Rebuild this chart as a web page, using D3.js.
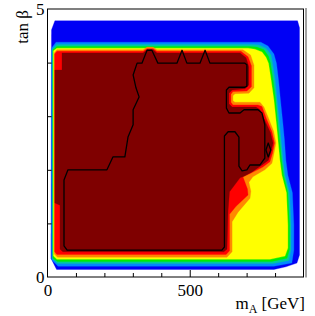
<!DOCTYPE html>
<html><head><meta charset="utf-8">
<script src="https://cdn.jsdelivr.net/npm/d3@7"></script>
<style>body{margin:0;background:#fff}</style></head>
<body><svg id="c" width="315" height="316"></svg>
<script>
// ---------- data (m_A in GeV, tan beta) ----------
const xDomain = [0, 900];
const yDomain = [0, 5];
const xMinorTicks = [100, 200, 300, 400, 600, 700, 800];
const xLabelTicks = [0, 500];
const yMinorTicks = [1, 2, 3, 4];
const yLabelTicks = [0, 5];

// filled contour levels, outermost (lowest) first
const levelBlue = [[12,0.35],[32,0.14],[796,0.14],[838,0.19],[877,0.26],[886,0.41],[886,4.65],[879,4.78],[26,4.78],[14,4.61]];
const levelAzure = [[14,0.32],[37,0.20],[796,0.20],[859,0.26],[866,0.50],[866,0.97],[861,1.57],[845,1.90],[838,2.18],[833,2.56],[828,2.84],[819,3.30],[812,3.68],[805,3.99],[796,4.16],[775,4.31],[750,4.38],[729,4.38],[30,4.38],[14,4.27]];
const levelTeal = [[17,0.34],[35,0.25],[793,0.25],[849,0.31],[856,0.52],[856,0.97],[851,1.57],[835,1.90],[828,2.18],[821,2.56],[816,2.84],[807,3.30],[800,3.68],[791,3.99],[786,4.14],[768,4.27],[743,4.33],[719,4.34],[32,4.34],[17,4.25]];
const levelGreen = [[19,0.35],[35,0.29],[789,0.29],[842,0.35],[851,0.52],[851,0.97],[845,1.57],[830,1.90],[823,2.18],[816,2.56],[810,2.84],[802,3.30],[793,3.68],[784,3.99],[777,4.12],[761,4.24],[736,4.29],[712,4.30],[33,4.30],[19,4.24]];
const levelYellow = [[21,0.39],[33,0.33],[782,0.33],[835,0.39],[845,0.54],[845,0.97],[840,1.57],[824,1.90],[817,2.18],[810,2.56],[805,2.84],[796,3.30],[786,3.68],[777,3.99],[768,4.10],[754,4.20],[729,4.25],[705,4.27],[33,4.27],[21,4.22]];
const levelOrange = [[24,0.43],[35,0.37],[631,0.37],[649,0.47],[649,1.03],[670,1.21],[712,1.47],[715,1.60],[708,1.77],[722,1.87],[764,2.00],[789,2.12],[796,2.30],[803,2.50],[795,2.72],[775,2.99],[761,3.17],[747,3.26],[659,3.26],[652,3.29],[652,3.38],[659,3.42],[708,3.43],[726,3.53],[726,3.95],[714,4.14],[687,4.24],[385,4.24],[371,4.29],[350,4.29],[336,4.24],[33,4.24],[24,4.18]];
const levelRed = [[25,0.47],[33,0.42],[628,0.42],[640,0.49],[640,1.17],[663,1.32],[705,1.53],[703,1.64],[687,1.87],[712,1.93],[757,2.05],[782,2.15],[791,2.31],[798,2.50],[789,2.71],[770,2.95],[754,3.18],[740,3.21],[652,3.21],[645,3.26],[645,3.41],[652,3.46],[701,3.47],[717,3.55],[717,3.94],[705,4.11],[680,4.21],[385,4.21],[371,4.26],[350,4.26],[336,4.21],[33,4.21],[25,4.16]];
const levelDarkRed = [[44,0.52],[54,0.47],[620,0.47],[631,0.52],[635,1.25],[640,1.59],[677,1.85],[691,1.88],[719,1.96],[754,2.09],[777,2.18],[786,2.33],[793,2.50],[784,2.69],[765,2.91],[747,3.12],[733,3.17],[649,3.17],[638,3.23],[638,3.43],[649,3.49],[694,3.51],[708,3.58],[708,3.92],[698,4.09],[677,4.18],[385,4.18],[371,4.24],[350,4.24],[336,4.18],[51,4.18],[51,3.86],[26,3.86],[26,1.38],[44,1.34]];

// black contour line
const contourMain = [[69,0.50],[58,0.58],[58,1.81],[72,2.00],[209,2.00],[230,2.24],[272,2.24],[283,2.61],[301,2.84],[301,3.12],[322,3.36],[311,3.53],[301,3.77],[315,3.99],[332,3.99],[350,4.23],[367,4.23],[388,3.99],[455,3.99],[473,4.23],[490,3.99],[536,3.99],[554,4.23],[571,3.99],[694,3.99],[701,3.96],[701,3.56],[694,3.54],[638,3.54],[629,3.49],[629,3.15],[638,3.06],[677,3.06],[691,3.12],[740,3.12],[754,3.06],[764,2.84],[764,2.22],[747,2.09],[712,2.09],[701,2.00],[684,1.98],[673,2.07],[673,2.61],[659,2.71],[635,2.71],[622,2.63],[622,0.56],[613,0.50]];
const contourIsland = [[776,2.50],[785,2.37],[776,2.24],[768,2.37]];

// ---------- styles ----------
const fillColors = ["#0000f5","#0088ff","#00c8a0","#00ee00","#ffff00","#ff8800","#ff0000","#7f0000"];
const levels = [levelBlue, levelAzure, levelTeal, levelGreen, levelYellow, levelOrange, levelRed, levelDarkRed];

const svg = d3.select("#c");
const L = 47.5, R = 303.5, T = 9, B = 277;
const x = d3.scaleLinear().domain(xDomain).range([L, R]);
const y = d3.scaleLinear().domain(yDomain).range([B, T]);
const font = "'Liberation Serif','Times New Roman',serif";

svg.append("rect").attr("width",315).attr("height",316).attr("fill","#fff");
svg.append("defs").append("clipPath").attr("id","clip")
  .append("rect").attr("x",L).attr("y",T).attr("width",R-L).attr("height",B-T);

const area = svg.append("g").attr("clip-path","url(#clip)");
const poly = d3.line().x(d=>x(d[0])).y(d=>y(d[1])).curve(d3.curveLinearClosed);

area.selectAll("path.lvl").data(levels).join("path")
  .attr("class","lvl")
  .attr("d", poly)
  .attr("fill",(d,i)=>fillColors[i])
  .attr("stroke",(d,i)=>fillColors[i])
  .attr("stroke-width",0.3);

area.selectAll("path.cl").data([contourMain, contourIsland]).join("path")
  .attr("class","cl")
  .attr("d", poly)
  .attr("fill","none")
  .attr("stroke","#000")
  .attr("stroke-width",1.3)
  .attr("stroke-linejoin","round");

// axes
const gx = svg.append("g").attr("transform",`translate(0,${B})`);
gx.call(d3.axisBottom(x).tickValues(xMinorTicks).tickSize(-4).tickFormat(""));
const gx2 = svg.append("g").attr("transform",`translate(0,${B})`);
gx2.call(d3.axisBottom(x).tickValues(xLabelTicks).tickSize(-7).tickPadding(7).tickFormat(d3.format("d")));
const gy = svg.append("g").attr("transform",`translate(${L},0)`);
gy.call(d3.axisLeft(y).tickValues(yMinorTicks).tickSize(-4).tickFormat(""));
const gy2 = svg.append("g").attr("transform",`translate(${L},0)`);
gy2.call(d3.axisLeft(y).tickValues(yLabelTicks).tickSize(0).tickPadding(3).tickFormat(d3.format("d")));

[gx,gx2,gy,gy2].forEach(g=>{
  g.select(".domain").remove();
  g.selectAll("line").attr("stroke","#000");
  g.selectAll("text").attr("font-family",font).attr("font-size",17).attr("fill","#000");
});
gx2.selectAll(".tick").filter(d=>d===0).select("line").remove();

// frame (with the second outer line on the right)
svg.append("rect").attr("x",L).attr("y",T).attr("width",R-L).attr("height",B-T)
  .attr("fill","none").attr("stroke","#000").attr("stroke-width",1);
svg.append("line").attr("x1",R+2.5).attr("x2",R+2.5).attr("y1",T-1).attr("y2",B+0.5)
  .attr("stroke","#444").attr("stroke-width",1);

// titles
svg.append("text").attr("transform",`translate(28,${T+1}) rotate(-90)`)
  .attr("text-anchor","end").attr("font-family",font).attr("font-size",17)
  .text("tan β");
const xt = svg.append("text").attr("x",305).attr("y",309).attr("text-anchor","end")
  .attr("font-family",font).attr("font-size",17);
xt.append("tspan").text("m");
xt.append("tspan").attr("font-size",12).attr("dy",4).text("A");
xt.append("tspan").attr("dy",-4).text(" [GeV]");
</script></body></html>
